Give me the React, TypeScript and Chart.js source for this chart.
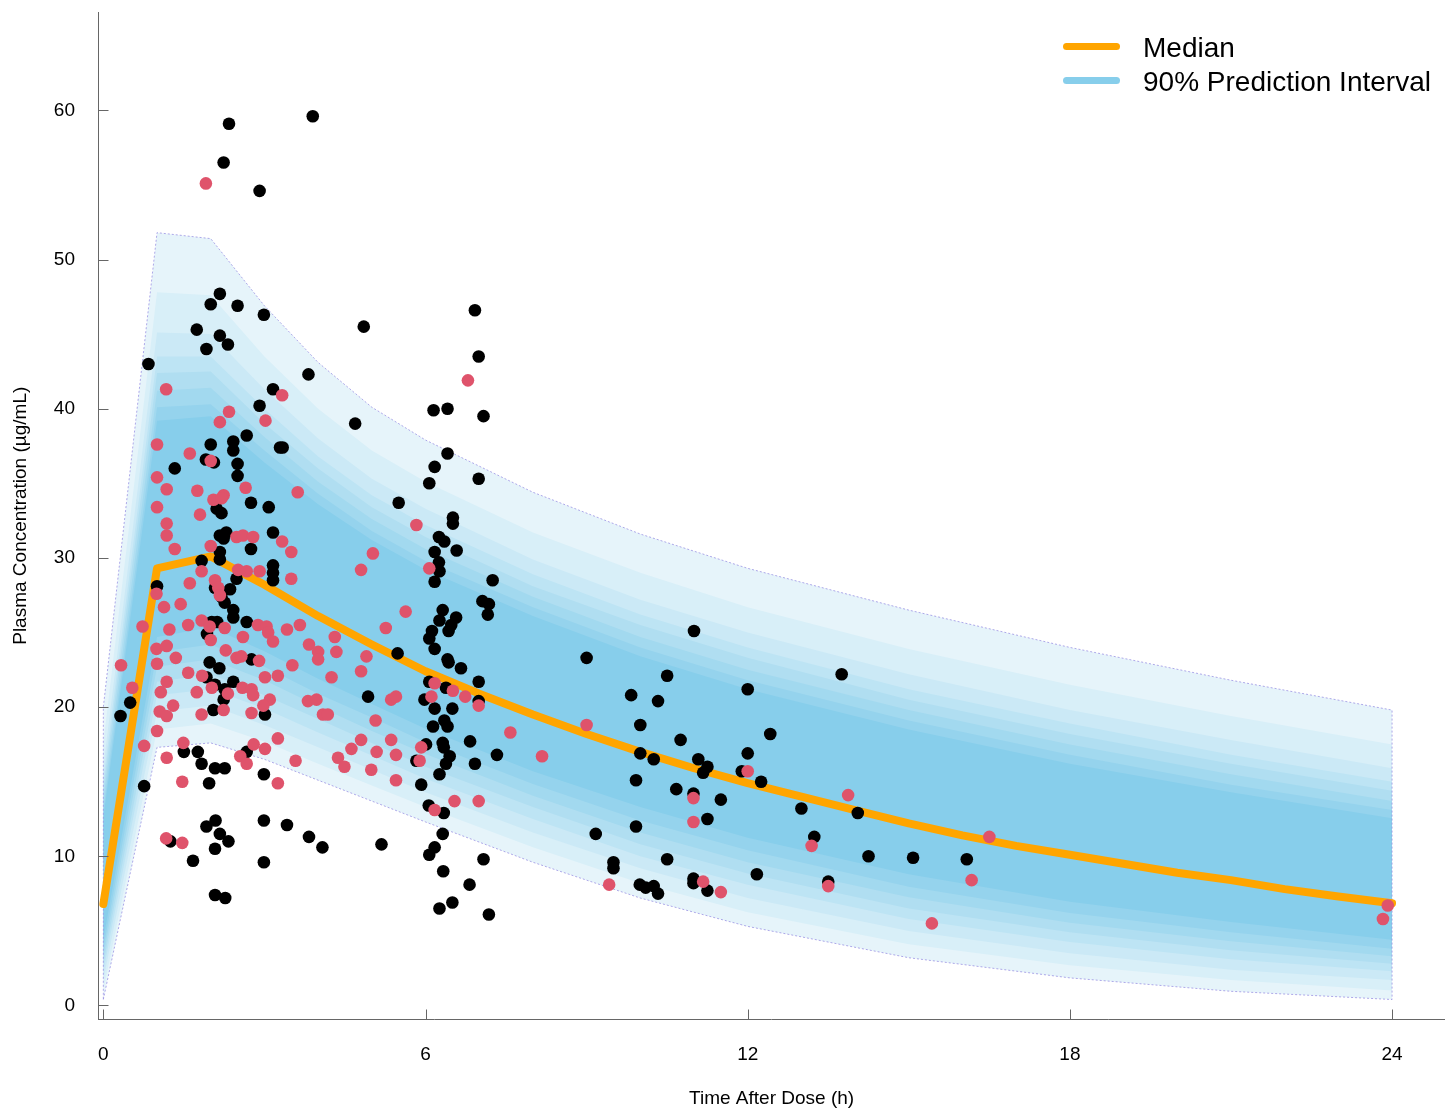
import { useEffect, useRef } from 'react';
import { Chart, registerables } from 'chart.js';

Chart.register(...registerables);

const X_TICKS = [0, 6, 12, 18, 24];
const Y_TICKS = [0, 10, 20, 30, 40, 50, 60];

const MEDIAN_TIME = [0, 1, 2, 3, 4, 5, 6, 7, 8, 9, 10, 11, 12, 13, 14, 15, 16, 17, 18, 19, 20, 21, 22, 23, 24];
const MEDIAN_CONC = [6.8, 29.3, 30.1, 28.2, 26.1, 24.2, 22.4, 20.9, 19.5, 18.2, 17.0, 15.9, 14.9, 14.0, 13.1, 12.2, 11.4, 10.7, 10.1, 9.5, 8.9, 8.4, 7.8, 7.3, 6.85];

const BAND_TIME = [0, 1, 2, 3, 4, 5, 6, 8, 10, 12, 15, 18, 21, 24];
// upper edges, outermost (95th percentile) first
const PI_HI_0 = [20.0, 51.8, 51.4, 46.9, 43.1, 40.1, 37.9, 34.4, 31.6, 29.3, 26.5, 24.0, 21.8, 19.8];
const PI_HI_1 = [17.6, 47.8, 47.6, 43.5, 40.0, 37.2, 35.1, 31.7, 29.0, 26.7, 23.9, 21.5, 19.4, 17.5];
const PI_HI_2 = [16.0, 45.1, 45.0, 41.3, 38.0, 35.3, 33.3, 29.9, 27.2, 25.0, 22.2, 19.8, 17.8, 15.9];
const PI_HI_3 = [15.1, 43.5, 43.5, 40.0, 36.8, 34.2, 32.2, 28.9, 26.2, 24.0, 21.2, 18.9, 16.8, 15.0];
const PI_HI_4 = [14.5, 42.4, 42.5, 39.0, 36.0, 33.4, 31.4, 28.1, 25.5, 23.3, 20.5, 18.2, 16.2, 14.4];
const PI_HI_5 = [13.8, 41.2, 41.4, 38.1, 35.1, 32.6, 30.6, 27.4, 24.7, 22.5, 19.8, 17.5, 15.5, 13.7];
const PI_HI_6 = [13.1, 40.1, 40.3, 37.2, 34.3, 31.8, 29.8, 26.7, 24.0, 21.8, 19.1, 16.8, 14.8, 13.1];
const PI_HI_7 = [12.6, 39.2, 39.5, 36.4, 33.6, 31.2, 29.2, 26.1, 23.4, 21.2, 18.5, 16.2, 14.3, 12.55];
// lower edges, outermost (5th percentile) first
const PI_LO_0 = [0.4, 17.3, 17.6, 16.5, 15.1, 13.7, 12.3, 9.6, 7.2, 5.3, 3.2, 1.85, 0.95, 0.4];
const PI_LO_1 = [1.0, 18.5, 18.9, 17.7, 16.2, 14.75, 13.3, 10.6, 8.2, 6.25, 4.1, 2.7, 1.7, 1.0];
const PI_LO_2 = [1.7, 19.7, 20.1, 18.8, 17.3, 15.8, 14.3, 11.6, 9.2, 7.2, 5.0, 3.5, 2.4, 1.7];
const PI_LO_3 = [2.3, 20.8, 21.2, 19.9, 18.3, 16.75, 15.2, 12.5, 10.0, 8.1, 5.8, 4.25, 3.1, 2.3];
const PI_LO_4 = [2.8, 21.7, 22.2, 20.8, 19.2, 17.6, 16.0, 13.3, 10.8, 8.85, 6.5, 4.9, 3.7, 2.8];
const PI_LO_5 = [3.3, 22.7, 23.2, 21.8, 20.05, 18.4, 16.85, 14.05, 11.6, 9.6, 7.25, 5.55, 4.3, 3.3];
const PI_LO_6 = [3.8, 23.7, 24.2, 22.7, 20.9, 19.3, 17.65, 14.85, 12.4, 10.4, 7.95, 6.2, 4.9, 3.8];
const PI_LO_7 = [4.4, 24.7, 25.35, 23.75, 21.9, 20.2, 18.55, 15.7, 13.3, 11.25, 8.8, 6.95, 5.6, 4.4];

const BAND_COLORS = ['#e6f4fa', '#d8eff8', '#cbe9f6', '#bde4f4', '#b0def1', '#a2d9ef', '#95d3ed', '#87ceeb'];

// observed concentrations [time (h), conc (ug/mL)]
const BLACK_OBS: [number, number][] = [
  [2.34, 59.1], [3.90, 59.6], [2.24, 56.5], [2.91, 54.6],
  [2.17, 47.7], [2.00, 47.0], [2.50, 46.9], [2.99, 46.3], [1.74, 45.3], [2.17, 44.9], [2.32, 44.3], [1.92, 44.0],
  [0.84, 43.0], [3.82, 42.3], [3.16, 41.3], [2.91, 40.2], [2.67, 38.2], [2.42, 37.8], [2.00, 37.6], [2.42, 37.2],
  [3.29, 37.4], [3.34, 37.4], [1.91, 36.6], [2.06, 36.4], [1.33, 36.0], [2.50, 36.3], [2.50, 35.5], [2.75, 33.7],
  [3.08, 33.4], [2.11, 33.3], [2.20, 33.0], [3.16, 31.7], [2.17, 31.5], [2.29, 31.7], [2.24, 31.3], [2.75, 30.6],
  [2.17, 30.4], [2.17, 29.9], [1.83, 29.8], [3.16, 29.5], [3.16, 29.0], [3.16, 28.5], [2.48, 28.6], [1.00, 28.1],
  [2.08, 28.0], [2.36, 27.9], [2.20, 27.4], [2.26, 27.0], [2.42, 26.5], [2.42, 26.0], [2.67, 25.7], [2.02, 25.7],
  [2.12, 25.7], [1.93, 24.9], [1.98, 23.0], [2.16, 22.6], [2.76, 23.2], [1.92, 22.0], [2.08, 21.5], [2.42, 21.7],
  [2.26, 21.2], [0.50, 20.3], [0.32, 19.4], [3.01, 19.5], [2.05, 19.8], [2.24, 20.5],
  [0.76, 14.7], [1.50, 17.0], [1.76, 17.0], [1.83, 16.2], [2.08, 15.9], [2.26, 15.9], [1.97, 14.9], [2.67, 17.0],
  [2.99, 15.5], [1.25, 11.0], [1.67, 9.7], [1.92, 12.0], [2.09, 12.4], [2.17, 11.5], [2.33, 11.0], [2.08, 10.5],
  [2.99, 12.4], [2.99, 9.6], [3.42, 12.1], [3.83, 11.3], [4.08, 10.6], [5.18, 10.8], [2.08, 7.4], [2.27, 7.2],
  [4.93, 20.7], [4.85, 45.5], [4.69, 39.0],
  [6.92, 46.6], [6.99, 43.5], [6.15, 39.9], [6.41, 40.0], [7.08, 39.5], [6.41, 37.0], [6.17, 36.1], [6.07, 35.0],
  [6.99, 35.3], [5.50, 33.7], [6.51, 32.7], [6.51, 32.3], [6.25, 31.4], [6.35, 31.1], [6.17, 30.4], [6.58, 30.5],
  [6.25, 29.7], [6.26, 29.1], [6.17, 28.4], [7.25, 28.5], [7.06, 27.1], [7.18, 26.9], [7.16, 26.2], [6.32, 26.5],
  [6.57, 26.0], [6.26, 25.8], [6.48, 25.5], [6.43, 25.1], [6.12, 25.1], [6.07, 24.6], [6.17, 23.9], [6.41, 23.2],
  [6.43, 23.0], [6.66, 22.6], [5.48, 23.6], [6.99, 21.7], [6.07, 21.7], [5.98, 20.5], [6.38, 21.3], [6.99, 20.4],
  [6.17, 19.9], [6.50, 19.9], [6.14, 18.7], [6.35, 19.1], [6.41, 18.7], [6.32, 17.6], [6.34, 17.3], [6.01, 17.5],
  [6.83, 17.7], [7.33, 16.8], [6.45, 16.7], [6.38, 16.2], [5.83, 16.4], [6.26, 15.5], [6.92, 16.2], [5.92, 14.8],
  [6.06, 13.4], [6.34, 12.9], [6.32, 11.5], [6.17, 10.6], [6.07, 10.1], [7.08, 9.8], [6.33, 9.0], [6.82, 8.1],
  [6.50, 6.9], [6.26, 6.5], [7.18, 6.1],
  [11.00, 25.1], [9.00, 23.3], [10.50, 22.1], [9.83, 20.8], [10.33, 20.4], [12.00, 21.2], [13.75, 22.2], [10.00, 18.8],
  [10.75, 17.8], [12.42, 18.2], [10.00, 16.9], [10.25, 16.5], [11.08, 16.5], [11.25, 16.0], [11.17, 15.6], [12.00, 16.9],
  [11.89, 15.7], [12.25, 15.0], [9.92, 15.1], [10.67, 14.5], [10.99, 14.2], [11.50, 13.8], [11.25, 12.5], [9.92, 12.0],
  [9.17, 11.5], [13.00, 13.2], [14.05, 12.9], [13.24, 11.3], [14.25, 10.0], [15.08, 9.9], [16.08, 9.8], [9.50, 9.6],
  [9.50, 9.2], [10.50, 9.8], [9.99, 8.1], [10.10, 7.9], [10.25, 8.0], [10.33, 7.5], [10.99, 8.5], [10.99, 8.2],
  [11.25, 7.7], [12.17, 8.8], [13.50, 8.3],
];

const RED_OBS: [number, number][] = [
  [1.91, 55.1],
  [1.17, 41.3], [3.33, 40.9], [2.34, 39.8], [2.17, 39.1], [3.02, 39.2], [1.00, 37.6], [1.61, 37.0], [2.00, 36.5],
  [1.00, 35.4], [1.18, 34.6], [1.75, 34.5], [2.65, 34.7], [3.62, 34.4], [2.05, 33.9], [2.24, 34.2], [2.20, 34.0],
  [1.00, 33.4], [1.80, 32.9], [1.18, 32.3], [1.18, 31.5], [1.33, 30.6], [2.00, 30.8], [2.48, 31.4], [2.60, 31.5],
  [2.79, 31.4], [3.33, 31.1], [3.50, 30.4], [1.83, 29.1], [2.51, 29.2], [2.67, 29.1], [2.91, 29.1], [3.50, 28.6],
  [1.61, 28.3], [2.08, 28.5], [2.14, 28.0], [2.17, 27.5], [0.99, 27.6], [1.13, 26.7], [1.44, 26.9], [0.73, 25.4],
  [1.23, 25.2], [1.58, 25.5], [1.83, 25.8], [1.98, 25.4], [2.26, 25.3], [2.60, 24.7], [2.88, 25.5], [3.04, 25.4],
  [3.07, 25.0], [3.16, 24.4], [3.42, 25.2], [3.66, 25.5], [2.00, 24.5], [0.99, 23.9], [1.18, 24.1], [1.35, 23.3],
  [1.00, 22.9], [2.28, 23.8], [2.48, 23.3], [2.57, 23.4], [2.90, 23.1], [3.52, 22.8], [3.83, 24.2], [4.00, 23.7],
  [4.00, 23.2], [4.31, 24.7], [4.34, 23.7], [0.33, 22.8], [1.58, 22.3], [1.84, 22.1], [1.18, 21.7], [0.54, 21.3],
  [1.07, 21.0], [1.74, 21.0], [2.02, 21.3], [2.32, 20.9], [2.59, 21.3], [2.76, 21.2], [2.79, 20.8], [3.01, 22.0],
  [3.25, 22.1], [3.10, 20.5], [2.98, 20.1], [4.25, 22.0], [3.81, 20.4], [3.97, 20.5], [1.30, 20.1], [1.05, 19.7],
  [1.18, 19.4], [1.83, 19.5], [2.24, 19.8], [2.76, 19.6], [4.09, 19.5], [4.18, 19.5],
  [0.76, 17.4], [1.18, 16.6], [1.17, 11.2], [1.47, 10.9], [1.47, 15.0], [1.49, 17.6], [1.00, 18.4], [2.55, 16.7],
  [2.67, 16.2], [2.80, 17.5], [3.01, 17.2], [3.25, 17.9], [3.25, 14.9], [3.58, 16.4], [4.62, 17.2], [4.80, 17.8],
  [4.37, 16.6], [4.49, 16.0], [4.90, 23.4], [4.80, 22.4], [5.07, 19.1], [4.99, 15.8], [5.36, 17.8], [5.45, 15.1],
  [5.45, 16.8], [5.09, 17.0], [5.02, 30.3], [4.80, 29.2],
  [6.79, 41.9], [5.83, 32.2], [6.07, 29.3], [5.63, 26.4], [5.26, 25.3], [5.36, 20.5], [5.45, 20.7], [6.17, 21.6],
  [6.11, 20.7], [6.51, 21.1], [6.74, 20.7], [6.99, 20.1], [7.58, 18.3], [5.92, 17.3], [5.89, 16.4], [6.54, 13.7],
  [6.99, 13.7], [6.17, 13.1], [8.17, 16.7],
  [9.00, 18.8], [12.00, 15.7], [10.99, 13.9], [10.99, 12.3], [13.87, 14.1], [13.19, 10.7], [16.50, 11.3], [16.17, 8.4],
  [9.42, 8.1], [11.17, 8.3], [11.50, 7.6], [13.50, 8.0], [15.43, 5.5],
  [23.83, 5.8], [23.92, 6.7],
];

const FONT = "'Liberation Sans', Arial, Helvetica, sans-serif";
const AXIS_COLOR = '#666666';

const innerTicks = {
  id: 'innerTicks',
  afterDraw(chart: any) {
    const { ctx, chartArea, scales } = chart;
    ctx.save();
    ctx.strokeStyle = AXIS_COLOR;
    ctx.lineWidth = 1;
    ctx.beginPath();
    for (const v of Y_TICKS) {
      const y = Math.round(scales.y.getPixelForValue(v)) + 0.5;
      ctx.moveTo(chartArea.left, y);
      ctx.lineTo(chartArea.left + 10, y);
    }
    for (const v of X_TICKS) {
      const x = Math.round(scales.x.getPixelForValue(v)) + 0.5;
      ctx.moveTo(x, chartArea.bottom);
      ctx.lineTo(x, chartArea.bottom - 10);
    }
    ctx.stroke();
    ctx.restore();
  },
};

const xy = (ts: number[], vs: number[]) => ts.map((t, i) => ({ x: t, y: vs[i] }));

export default function App() {
  const ref = useRef<HTMLCanvasElement>(null);

  useEffect(() => {
    if (!ref.current) return;
    Chart.defaults.font.family = FONT;

    const his = [PI_HI_0, PI_HI_1, PI_HI_2, PI_HI_3, PI_HI_4, PI_HI_5, PI_HI_6, PI_HI_7];
    const los = [PI_LO_0, PI_LO_1, PI_LO_2, PI_LO_3, PI_LO_4, PI_LO_5, PI_LO_6, PI_LO_7];

    const datasets: any[] = [];
    his.forEach((hi, k) => {
      datasets.push({
        data: xy(BAND_TIME, hi),
        fill: '+1',
        backgroundColor: BAND_COLORS[k],
        borderColor: 'rgba(0,0,0,0)',
        borderWidth: 0,
        pointRadius: 0,
        tension: 0,
        order: 30 - k,
      });
      datasets.push({
        data: xy(BAND_TIME, los[k]),
        fill: false,
        borderColor: 'rgba(0,0,0,0)',
        borderWidth: 0,
        pointRadius: 0,
        tension: 0,
        order: 30 - k,
      });
    });

    const outline = [
      ...xy(BAND_TIME, PI_LO_0),
      ...xy(BAND_TIME, PI_HI_0).reverse(),
      { x: BAND_TIME[0], y: PI_LO_0[0] },
    ];
    datasets.push({
      data: outline,
      fill: false,
      borderColor: 'rgba(150,140,225,0.75)',
      borderWidth: 1,
      borderDash: [2, 2],
      pointRadius: 0,
      tension: 0,
      order: 5,
    });

    datasets.push({
      label: 'Median',
      data: xy(MEDIAN_TIME, MEDIAN_CONC),
      fill: false,
      borderColor: '#FFA500',
      borderWidth: 8,
      borderCapStyle: 'round',
      borderJoinStyle: 'round',
      pointRadius: 0,
      tension: 0,
      order: 2,
    });

    datasets.push({
      data: BLACK_OBS.map(([t, v]) => ({ x: t, y: v })),
      showLine: false,
      pointRadius: 6.3,
      pointHoverRadius: 6.3,
      pointBackgroundColor: '#000000',
      pointBorderWidth: 0,
      borderColor: '#000000',
      order: 1,
    });
    datasets.push({
      data: RED_OBS.map(([t, v]) => ({ x: t, y: v })),
      showLine: false,
      pointRadius: 6.3,
      pointHoverRadius: 6.3,
      pointBackgroundColor: '#DF536B',
      pointBorderWidth: 0,
      borderColor: '#DF536B',
      order: 0,
    });

    const chart = new Chart(ref.current, {
      type: 'line',
      data: { datasets },
      options: {
        responsive: false,
        devicePixelRatio: 1,
        animation: false,
        events: [],
        layout: { padding: { left: 0, right: 4, top: 12, bottom: 0 } },
        plugins: {
          legend: { display: false },
          tooltip: { enabled: false },
        },
        scales: {
          x: {
            type: 'linear',
            min: -0.09,
            max: 24.98,
            grid: { display: false, drawTicks: false },
            border: { display: true, color: AXIS_COLOR, width: 1 },
            ticks: { padding: 24, color: '#000', font: { size: 19, family: FONT } },
            afterBuildTicks: (s: any) => {
              s.ticks = X_TICKS.map((v) => ({ value: v }));
            },
            afterFit: (s: any) => {
              s.height = 90.5;
              s.paddingLeft = 0;
              s.paddingRight = 0;
            },
            title: {
              display: true,
              text: 'Time After Dose (h)',
              color: '#000',
              font: { size: 19, family: FONT },
              padding: { top: 0, bottom: 0 },
            },
          },
          y: {
            type: 'linear',
            min: -0.94,
            max: 66.59,
            grid: { display: false, drawTicks: false },
            border: { display: true, color: AXIS_COLOR, width: 1 },
            ticks: { padding: 23.5, color: '#000', font: { size: 19, family: FONT } },
            afterBuildTicks: (s: any) => {
              s.ticks = Y_TICKS.map((v) => ({ value: v }));
            },
            afterFit: (s: any) => {
              s.width = 98.5;
              s.paddingTop = 0;
              s.paddingBottom = 0;
            },
            title: {
              display: true,
              text: 'Plasma Concentration (µg/mL)',
              color: '#000',
              font: { size: 19, family: FONT },
              padding: { top: 9, bottom: 0 },
            },
          },
        },
      } as any,
      plugins: [innerTicks],
    });

    return () => chart.destroy();
  }, []);

  const legendText = {
    position: 'absolute' as const,
    left: 1143,
    fontSize: 28,
    lineHeight: '34px',
    fontFamily: FONT,
    color: '#000',
    whiteSpace: 'nowrap' as const,
  };

  return (
    <div style={{ position: 'absolute', left: 0, top: 0, width: 1451, height: 1110, background: '#fff' }}>
      <canvas ref={ref} width={1451} height={1110} style={{ display: 'block', width: 1451, height: 1110 }} />
      <div style={{ position: 'absolute', left: 1063, top: 43.2, width: 57, height: 7, borderRadius: 3.5, background: '#FFA500' }} />
      <div style={{ ...legendText, top: 30.6 }}>Median</div>
      <div style={{ position: 'absolute', left: 1063, top: 77.2, width: 57, height: 7, borderRadius: 3.5, background: '#87CEEB' }} />
      <div style={{ ...legendText, top: 65 }}>90% Prediction Interval</div>
    </div>
  );
}
